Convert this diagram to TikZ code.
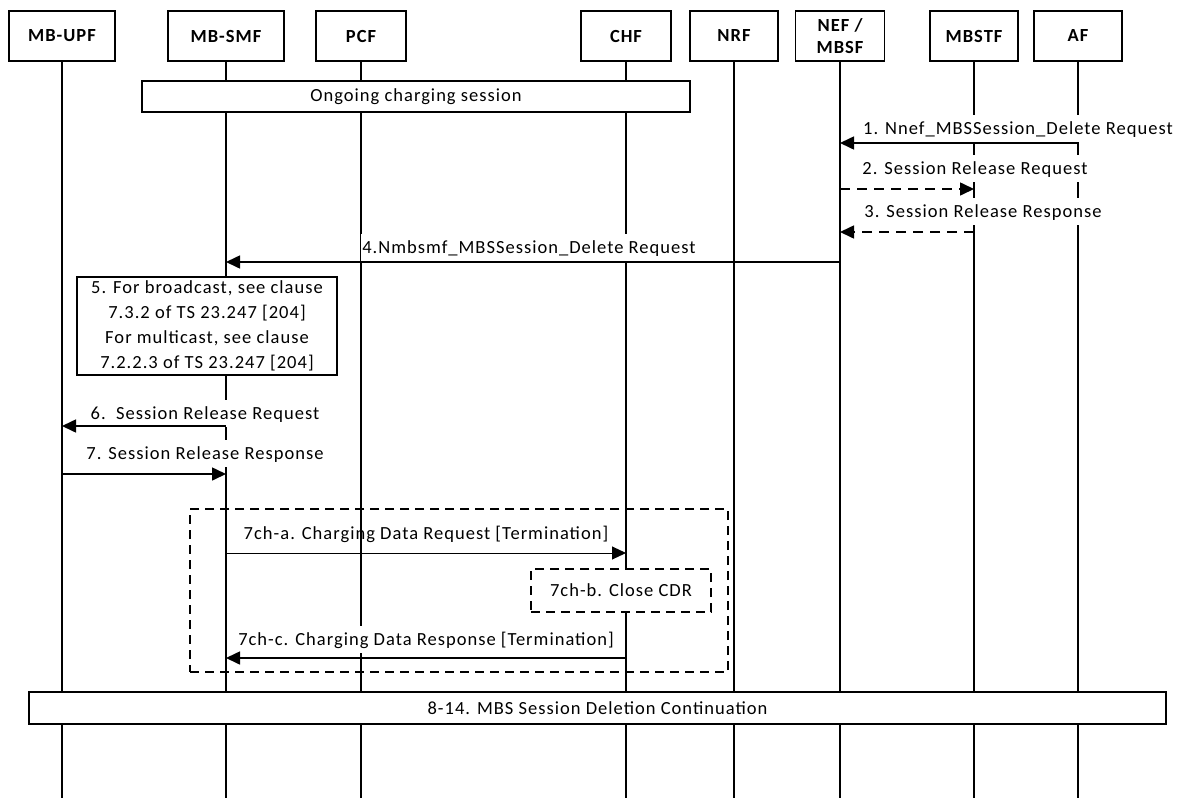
\documentclass[tikz,border=0pt]{standalone}
\usepackage{fontspec}
\setmainfont{Carlito}[LetterSpace=5.5]
\usetikzlibrary{arrows.meta}
\begin{document}
\begin{tikzpicture}[x=1pt,y=-1pt,
  every node/.style={font=\fontsize{18.5}{25}\selectfont},
  hdr/.style={draw, line width=1.2pt, minimum height=50pt, inner sep=0pt,
    font=\fontsize{18.5}{22}\selectfont\bfseries, align=center},
  life/.style={line width=1.6pt},
  msg/.style={line width=1.6pt, -{Triangle[length=14pt,width=13pt]}},
  thinmsg/.style={line width=1pt, -{Triangle[length=14pt,width=13pt]}},
  dmsg/.style={line width=1.6pt, dash pattern=on 10pt off 7pt, -{Triangle[length=14pt,width=13pt]}},
  lbl/.style={fill=white, inner xsep=1pt, inner ysep=5pt, text height=14pt, text depth=3pt, anchor=base},
  nlbl/.style={inner xsep=1pt, inner ysep=5pt, text height=14pt, text depth=3pt, anchor=base},
  bar/.style={draw, fill=white, line width=1.2pt, inner sep=0pt},
  dbox/.style={draw, line width=1.2pt, dash pattern=on 9pt off 6pt, inner sep=0pt}
]
\fill[white] (0,0) rectangle (1181,798);
\useasboundingbox (0,0) rectangle (1181,798);

% header boxes
\node[hdr, minimum width=106pt] (upf) at (62,36) {MB-UPF};
\node[hdr, minimum width=116pt] (smf) at (226,36) {MB-SMF};
\node[hdr, minimum width=90pt] (pcf) at (361,36) {PCF};
\node[hdr, minimum width=90pt] (chf) at (626,36) {CHF};
\node[hdr, minimum width=88pt] (nrf) at (734,36) {NRF};
\node[hdr, minimum width=89pt] (nef) at (840,36) {NEF /\\MBSF};
\node[hdr, minimum width=88pt] (mbstf) at (974,36) {MBSTF};
\node[hdr, minimum width=88pt] (af) at (1078,36) {AF};

% lifelines
\coordinate (bot) at (0,798);
\foreach \n in {upf,smf,pcf,chf,nrf,nef,mbstf,af}
  \draw[life] (\n.south) -- (\n.south |- bot);

% labels (white background hides the lifelines behind them)
\node[lbl] (l1) at (1018,134) {1. Nnef\_MBSSession\_Delete Request};
\node[lbl] (l2) at (975,174) {2. Session Release Request};
\node[lbl] (l3) at (983,217) {3. Session Release Response};
\node[lbl] (l4) at (529,253) {4.Nmbsmf\_MBSSession\_Delete Request};
\node[lbl] (l6) at (205,419) {6.\ \ Session Release Request};
\node[lbl] (l7) at (205,459) {7. Session Release Response};
\node[nlbl] (l7a) at (426,539) {7ch-a. Charging Data Request [Termination]};
\node[lbl] (l7c) at (426,645) {7ch-c. Charging Data Response [Termination]};

% row coordinates
\coordinate (r1) at (0,143);
\coordinate (r2) at (0,189);
\coordinate (r3) at (0,232);
\coordinate (r4) at (0,262);
\coordinate (r6) at (0,426);
\coordinate (r7) at (0,474);
\coordinate (ra) at (0,553);
\coordinate (rc) at (0,658);

% messages
\draw[msg] (af |- r1) -- (nef |- r1);
\draw[dmsg] (nef |- r2) -- (mbstf |- r2);
\draw[dmsg] (mbstf |- r3) -- (nef |- r3);
\draw[msg] (nef |- r4) -- (smf |- r4);
\draw[msg] (smf |- r6) -- (upf |- r6);
\draw[msg] (upf |- r7) -- (smf |- r7);
\draw[thinmsg] (smf |- ra) -- (chf |- ra);
\draw[msg] (chf |- rc) -- (smf |- rc);

% boxes
\node[bar, minimum width=548pt, minimum height=31pt] (ongoing) at (416,96.5) {Ongoing charging session};
\node[bar, minimum width=260pt, minimum height=98pt, align=center] (b5) at (207,326)
  {5. For broadcast, see clause\\7.3.2 of TS 23.247 [204]\\For multicast, see clause\\7.2.2.3 of TS 23.247 [204]};
\node[dbox, minimum width=538pt, minimum height=163pt] (grp) at (459,590.5) {};
\node[dbox, fill=white, minimum width=180pt, minimum height=43pt] (cdr) at (621,590.5) {7ch-b. Close CDR};
\node[bar, minimum width=1137pt, minimum height=32pt] (cont) at (597.5,708) {8-14. MBS Session Deletion Continuation};
\end{tikzpicture}
\end{document}
